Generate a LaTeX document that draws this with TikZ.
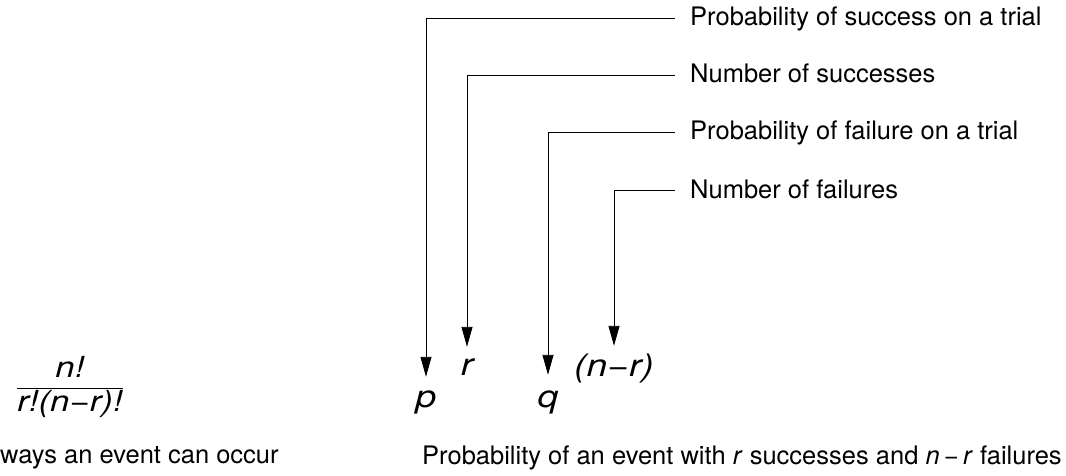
\documentclass[tikz,border=0pt]{standalone}
\usepackage{fontspec}
\setmainfont{TeX Gyre Heros}
\usetikzlibrary{arrows.meta}
\newcommand{\vx}[1]{\scalebox{1.2}[1]{\itshape #1}}
\begin{document}
\begin{tikzpicture}[x=1pt,y=-1pt,
  lab/.style={anchor=west,inner xsep=15pt,inner ysep=0pt,text height=16pt,text depth=0pt,font=\fontsize{25.5}{30}\selectfont},
  var/.style={anchor=base,inner sep=0pt,text height=15pt,text depth=0pt,font=\fontsize{31}{34}\selectfont},
  txt/.style={anchor=base west,inner sep=0pt,font=\fontsize{25.5}{30}\selectfont},
  conn/.style={line width=0.9pt,-{Triangle[length=20pt,width=11pt]}}]
\useasboundingbox (0,0) rectangle (1066,476);
\node[lab] (l1) at (675,18) {Probability of success on a trial};
\node[lab] (l2) at (675,75) {Number of successes};
\node[lab] (l3) at (675,132) {Probability of failure on a trial};
\node[lab] (l4) at (675,190) {Number of failures};
\node[var] (p) at (426,407) {\vx{p}};
\node[var] (r) at (467,375) {\vx{r}};
\node[var] (q) at (548,407) {\vx{q}};
\node[var] (nr) at (614,376) {\vx{(n−r)}};
\draw[conn,shorten >=15pt] (l1.west) -| (p.north);
\draw[conn,shorten >=13pt] (l2.west) -| (r.north);
\draw[conn,shorten >=17pt] (l3.west) -| (q.north);
\draw[conn,shorten >=15pt] (l4.west) -| (nr.north);
\node[inner sep=0pt,font=\fontsize{29}{32}\selectfont] (frac) at (70,387) {$\displaystyle\frac{\mbox{\vx{n!}}}{\mbox{\vx{r!(n−r)!}}}$};
\node[txt] (ways) at (0,463) {ways an event can occur};
\node[txt] (prob) at (422,464) {Probability of an event with \textit{r} successes and \textit{n}\,−\,\textit{r} failures};
\end{tikzpicture}
\end{document}
